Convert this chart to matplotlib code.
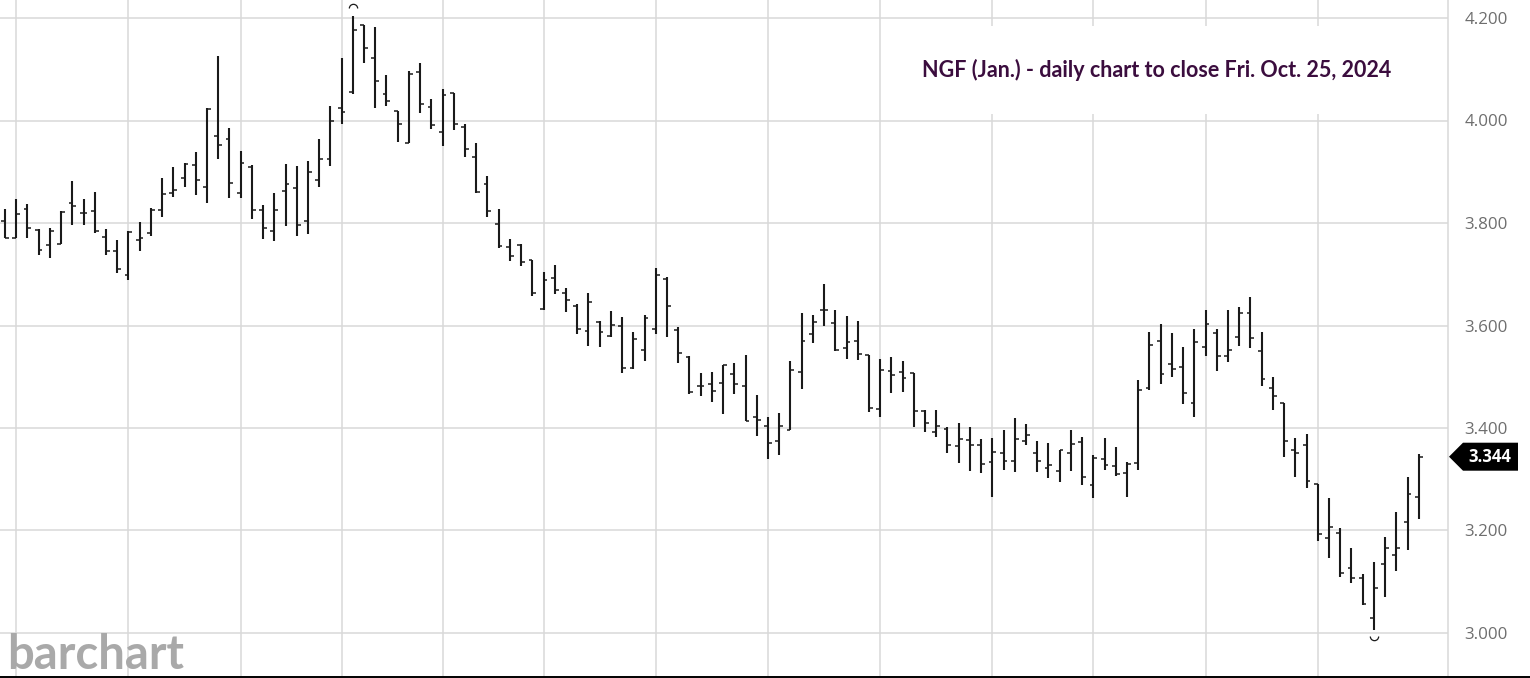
import numpy as np
import matplotlib
matplotlib.use("Agg")
import matplotlib.pyplot as plt
from matplotlib.path import Path
from matplotlib.patches import Polygon, Rectangle
from matplotlib.lines import Line2D
from matplotlib.transforms import blended_transform_factory

# Daily OHLC bars, NGF (Jan.) natural gas
opens = [3.803, 3.771, 3.827, 3.786, 3.757, 3.760, 3.840, 3.820, 3.824, 3.773,
         3.746, 3.698, 3.766, 3.780, 3.825, 3.858, 3.888, 3.914, 3.870, 3.970,
         3.964, 3.859, 3.910, 3.825, 3.785, 3.862, 3.868, 3.804, 3.883, 3.925,
         4.024, 4.056, 4.186, 4.121, 4.052, 4.019, 3.957, 4.095, 4.026, 3.977,
         4.053, 3.988, 3.928, 3.876, 3.799, 3.754, 3.758, 3.727, 3.633, 3.692,
         3.664, 3.639, 3.590, 3.607, 3.579, 3.600, 3.518, 3.553, 3.593, 3.690,
         3.591, 3.539, 3.482, 3.485, 3.488, 3.505, 3.481, 3.422, 3.403, 3.375,
         3.397, 3.509, 3.583, 3.631, 3.604, 3.557, 3.570, 3.542, 3.438, 3.511,
         3.510, 3.508, 3.434, 3.392, 3.399, 3.364, 3.377, 3.367, 3.333, 3.352,
         3.336, 3.375, 3.351, 3.321, 3.317, 3.352, 3.373, 3.289, 3.339, 3.325,
         3.313, 3.332, 3.479, 3.570, 3.525, 3.520, 3.449, 3.559, 3.586, 3.540,
         3.578, 3.625, 3.551, 3.479, 3.448, 3.358, 3.367, 3.291, 3.185, 3.196,
         3.126, 3.108, 3.029, 3.135, 3.152, 3.216, 3.266]
highs = [3.827, 3.846, 3.838, 3.788, 3.790, 3.824, 3.881, 3.846, 3.861, 3.788,
         3.767, 3.784, 3.801, 3.829, 3.887, 3.910, 3.918, 3.939, 4.024, 4.125,
         3.985, 3.941, 3.913, 3.835, 3.858, 3.916, 3.911, 3.921, 3.963, 4.028,
         4.121, 4.204, 4.186, 4.182, 4.089, 4.019, 4.097, 4.112, 4.042, 4.061,
         4.054, 3.994, 3.957, 3.892, 3.827, 3.768, 3.759, 3.728, 3.705, 3.718,
         3.674, 3.642, 3.663, 3.609, 3.628, 3.617, 3.587, 3.620, 3.712, 3.694,
         3.598, 3.540, 3.507, 3.510, 3.523, 3.526, 3.542, 3.464, 3.422, 3.430,
         3.531, 3.624, 3.620, 3.681, 3.631, 3.618, 3.609, 3.542, 3.534, 3.538,
         3.531, 3.508, 3.436, 3.436, 3.401, 3.410, 3.401, 3.378, 3.380, 3.397,
         3.420, 3.408, 3.375, 3.371, 3.358, 3.397, 3.383, 3.347, 3.380, 3.362,
         3.334, 3.494, 3.588, 3.603, 3.586, 3.559, 3.594, 3.630, 3.594, 3.630,
         3.637, 3.655, 3.588, 3.500, 3.449, 3.380, 3.388, 3.291, 3.264, 3.204,
         3.165, 3.116, 3.138, 3.187, 3.237, 3.304, 3.349]
lows = [3.770, 3.771, 3.771, 3.737, 3.731, 3.759, 3.797, 3.796, 3.780, 3.737,
        3.702, 3.689, 3.745, 3.775, 3.811, 3.851, 3.871, 3.855, 3.840, 3.924,
        3.848, 3.849, 3.807, 3.768, 3.765, 3.794, 3.775, 3.778, 3.870, 3.911,
        3.993, 4.051, 4.112, 4.024, 4.028, 3.959, 3.957, 4.015, 3.983, 3.950,
        3.982, 3.928, 3.858, 3.811, 3.752, 3.726, 3.716, 3.658, 3.630, 3.661,
        3.626, 3.583, 3.560, 3.559, 3.577, 3.508, 3.516, 3.531, 3.583, 3.578,
        3.527, 3.466, 3.462, 3.451, 3.427, 3.466, 3.414, 3.384, 3.339, 3.347,
        3.397, 3.477, 3.565, 3.599, 3.550, 3.534, 3.533, 3.432, 3.421, 3.469,
        3.471, 3.401, 3.392, 3.382, 3.351, 3.332, 3.317, 3.313, 3.266, 3.319,
        3.314, 3.366, 3.314, 3.303, 3.294, 3.317, 3.289, 3.263, 3.318, 3.306,
        3.265, 3.319, 3.474, 3.486, 3.499, 3.446, 3.421, 3.540, 3.512, 3.529,
        3.560, 3.557, 3.481, 3.436, 3.343, 3.305, 3.282, 3.180, 3.146, 3.110,
        3.097, 3.055, 3.006, 3.071, 3.120, 3.162, 3.222]
closes = [3.770, 3.817, 3.791, 3.747, 3.784, 3.822, 3.833, 3.820, 3.784, 3.745,
          3.711, 3.782, 3.770, 3.825, 3.856, 3.864, 3.915, 3.884, 4.022, 3.953,
          3.879, 3.918, 3.825, 3.791, 3.825, 3.877, 3.797, 3.900, 3.924, 4.000,
          4.017, 4.177, 4.141, 4.078, 4.039, 3.994, 4.091, 4.032, 3.991, 4.050,
          3.993, 3.944, 3.860, 3.823, 3.756, 3.736, 3.724, 3.663, 3.688, 3.669,
          3.650, 3.594, 3.645, 3.587, 3.601, 3.518, 3.574, 3.614, 3.698, 3.638,
          3.547, 3.470, 3.481, 3.472, 3.522, 3.485, 3.414, 3.416, 3.371, 3.403,
          3.513, 3.570, 3.607, 3.630, 3.552, 3.568, 3.544, 3.440, 3.513, 3.503,
          3.497, 3.434, 3.410, 3.404, 3.367, 3.378, 3.366, 3.330, 3.354, 3.336,
          3.379, 3.386, 3.336, 3.328, 3.357, 3.368, 3.304, 3.341, 3.328, 3.310,
          3.329, 3.475, 3.562, 3.505, 3.516, 3.469, 3.568, 3.603, 3.540, 3.553,
          3.624, 3.575, 3.496, 3.462, 3.375, 3.351, 3.297, 3.193, 3.206, 3.118,
          3.107, 3.056, 3.088, 3.166, 3.165, 3.271, 3.344]

# bars where the vertical date gridlines fall
grid_bars = [1, 11, 21, 30, 39, 48, 58, 68, 78, 88, 97, 107, 117]
price_ticks = [3.0, 3.2, 3.4, 3.6, 3.8, 4.0, 4.2]
last_price = 3.344

W, H = 1530, 678
fig = plt.figure(figsize=(W / 100, H / 100), dpi=100)
ax = fig.add_axes([0, 2 / H, 1448 / W, 676 / H])

x = np.arange(len(opens))
bar_col = "#1a1a1a"
tick = 0.34
ax.vlines(x, lows, highs, color=bar_col, linewidth=1.5, zorder=3)
ax.hlines(opens, x - tick, x, color=bar_col, linewidth=1.1, zorder=3)
ax.hlines(closes, x, x + tick, color=bar_col, linewidth=1.1, zorder=3)

# small arcs marking the high and the low of the period
hi = int(np.argmax(highs))
lo = int(np.argmin(lows))
arc_up = Path.arc(0, 180)
arc_dn = Path.arc(180, 360)
ax.plot(x[hi], highs[hi] + 0.016, marker=arc_up, markersize=6, mfc="none",
        mec=bar_col, mew=0.9, zorder=3)
ax.plot(x[lo], lows[lo] - 0.011, marker=arc_dn, markersize=6, mfc="none",
        mec=bar_col, mew=0.9, zorder=3)

ax.set_xlim(-5 / 11.22, 1443 / 11.22)
ax.set_ylim(4.2 - 658 / 512.5, 4.2 + 18 / 512.5)

ax.set_xticks(grid_bars)
ax.set_xticklabels([])
ax.set_yticks(price_ticks)
ax.set_yticklabels([f"{p:.3f}" for p in price_ticks])
ax.yaxis.tick_right()
ax.tick_params(axis="both", length=0)
ax.tick_params(axis="y", pad=12, labelsize=12.2, labelcolor="#6e6e6e")
for lab in ax.get_yticklabels():
    lab.set_fontfamily("Open Sans")
ax.grid(True, color="#d8d8d8", linewidth=1.1, zorder=0)
ax.set_axisbelow(True)
for s in ["top", "left", "bottom"]:
    ax.spines[s].set_visible(False)
ax.spines["right"].set_color("#d8d8d8")
ax.spines["right"].set_linewidth(1.1)

# white box behind the title hides the vertical gridlines
ax.add_patch(Rectangle((882 / 1448, 1 - 114 / 676), 564 / 1448, 88 / 676,
                       transform=ax.transAxes, facecolor="white",
                       edgecolor="none", zorder=1))
fig.text(1157 / W, 1 - 70 / H, "NGF (Jan.) - daily chart to close Fri. Oct. 25, 2024",
         ha="center", va="center", fontsize=15.5, fontweight="bold",
         color="#3b0d3e", fontfamily="Lato")

# last price tag
tr = blended_transform_factory(fig.transFigure, ax.transData)
hh = 14 / 512.5
tag = Polygon([(1449 / W, last_price), (1463 / W, last_price + hh),
               (1518 / W, last_price + hh), (1518 / W, last_price - hh),
               (1463 / W, last_price - hh)], closed=True, transform=tr,
              facecolor="black", edgecolor="none", clip_on=False)
fig.add_artist(tag)
fig.text(1490 / W, last_price, f"{last_price:.3f}", transform=tr, ha="center",
         va="center", fontsize=12, fontweight="bold", color="white",
         fontfamily="Open Sans")

# bottom rule and watermark
fig.add_artist(Line2D([0, 1], [1.5 / H, 1.5 / H], transform=fig.transFigure,
                      color="black", linewidth=1.4))
fig.text(7 / W, 1 / H, "barchart", ha="left", va="bottom", fontsize=34,
         fontweight="bold", color="#a9a9a9", fontfamily="Lato", zorder=0)

fig.savefig("out.png", dpi=100)
